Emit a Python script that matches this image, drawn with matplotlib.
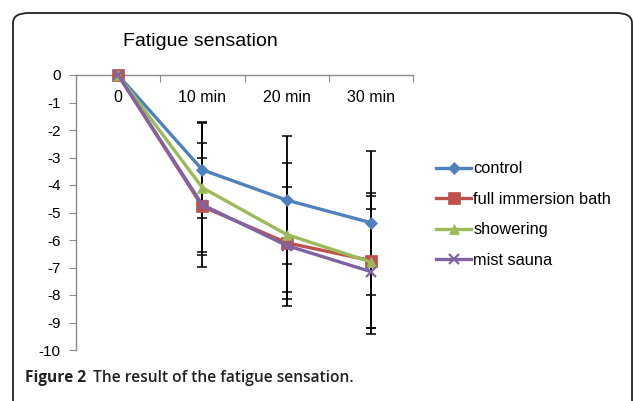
import matplotlib
matplotlib.use("Agg")
import matplotlib.pyplot as plt
from matplotlib.patches import FancyBboxPatch
import numpy as np

# data
categories = ['0', '10 min', '20 min', '30 min']
series_names = ['control', 'full immersion bath', 'showering', 'mist sauna']
control = [0, -3.45, -4.55, -5.37]
bath = [0, -4.78, -6.10, -6.75]
shower = [0, -4.10, -5.80, -6.80]
mist = [0, -4.72, -6.20, -7.15]
control_sd = [0, 1.75, 2.33, 2.62]
bath_sd = [0, 1.78, 2.03, 2.45]
shower_sd = [0, 2.35, 2.61, 2.40]
mist_sd = [0, 2.25, 1.70, 2.28]
y_ticks = list(range(0, -11, -1))

colors = ['#4F81BD', '#C0504D', '#9BBB59', '#8064A2']
markers = ['D', 's', '^', 'x']
msizes = [6.5, 8, 7.5, 7]

plt.rcParams['font.family'] = ['Liberation Sans', 'DejaVu Sans']

fig = plt.figure(figsize=(6.33, 4.01), dpi=100)

# rounded frame around the whole figure
frame = FancyBboxPatch((13 / 633, -10 / 401), 619 / 633, 398 / 401,
                       boxstyle='round,pad=0,rounding_size=0.025',
                       transform=fig.transFigure, fill=False,
                       edgecolor='#222222', linewidth=1.3)
fig.patches.append(frame)

ax = fig.add_axes([76 / 633, 51 / 401, 337 / 633, 275 / 401])

x = np.arange(len(categories))
values = [control, bath, shower, mist]
sds = [control_sd, bath_sd, shower_sd, mist_sd]

for vals, sd, name, c, m, ms in zip(values, sds, series_names, colors, markers, msizes):
    ax.errorbar(x, vals, yerr=sd, fmt='none', ecolor='black', elinewidth=1.3,
                capsize=3.5, capthick=1.1, zorder=2, clip_on=False)
    ax.plot(x, vals, color=c, linewidth=2.4, marker=m, markersize=ms,
            markeredgewidth=1.6 if m == 'x' else 0.5, markeredgecolor=c,
            label=name, zorder=3, clip_on=False)

ax.set_xlim(-0.5, len(categories) - 0.5)
ax.set_ylim(-10, 0)
ax.set_yticks(y_ticks)
ax.set_yticklabels([str(t) for t in y_ticks])

# category axis drawn at y = 0 with labels below it
ax.spines['bottom'].set_position(('data', 0))
ax.spines['top'].set_visible(False)
ax.spines['right'].set_visible(False)
for s in ['bottom', 'left']:
    ax.spines[s].set_color('#8c8c8c')
    ax.spines[s].set_linewidth(1.0)

ax.set_xticks(np.arange(len(categories) + 1) - 0.5, minor=False)
ax.set_xticklabels([''] * (len(categories) + 1))
ax.set_xticks(x, minor=True)
ax.set_xticklabels(categories, minor=True)
ax.tick_params(axis='x', which='major', direction='out', length=5, color='#8c8c8c')
ax.tick_params(axis='x', which='minor', length=0, pad=11, labelsize=11.5)
ax.tick_params(axis='y', direction='out', length=5, color='#8c8c8c', labelsize=11, pad=6)

fig.text(200 / 633, 1 - 42 / 401, 'Fatigue sensation', fontsize=14,
         ha='center', va='center')

leg = ax.legend(loc='upper left', bbox_to_anchor=(1.05, 0.71), frameon=False,
                fontsize=11.8, handlelength=2.1, handletextpad=0.15,
                labelspacing=0.95, borderaxespad=0)

fig.text(25 / 633, 1 - 378 / 401, 'Figure 2', fontsize=11.2, fontweight='bold',
         family=['Open Sans', 'DejaVu Sans'], color='#222222', va='center')
fig.text(93 / 633, 1 - 378 / 401, 'The result of the fatigue sensation.', fontsize=11.2,
         fontweight='semibold', family=['Open Sans', 'DejaVu Sans'], color='#222222',
         va='center')

fig.savefig('out.png', dpi=100)
